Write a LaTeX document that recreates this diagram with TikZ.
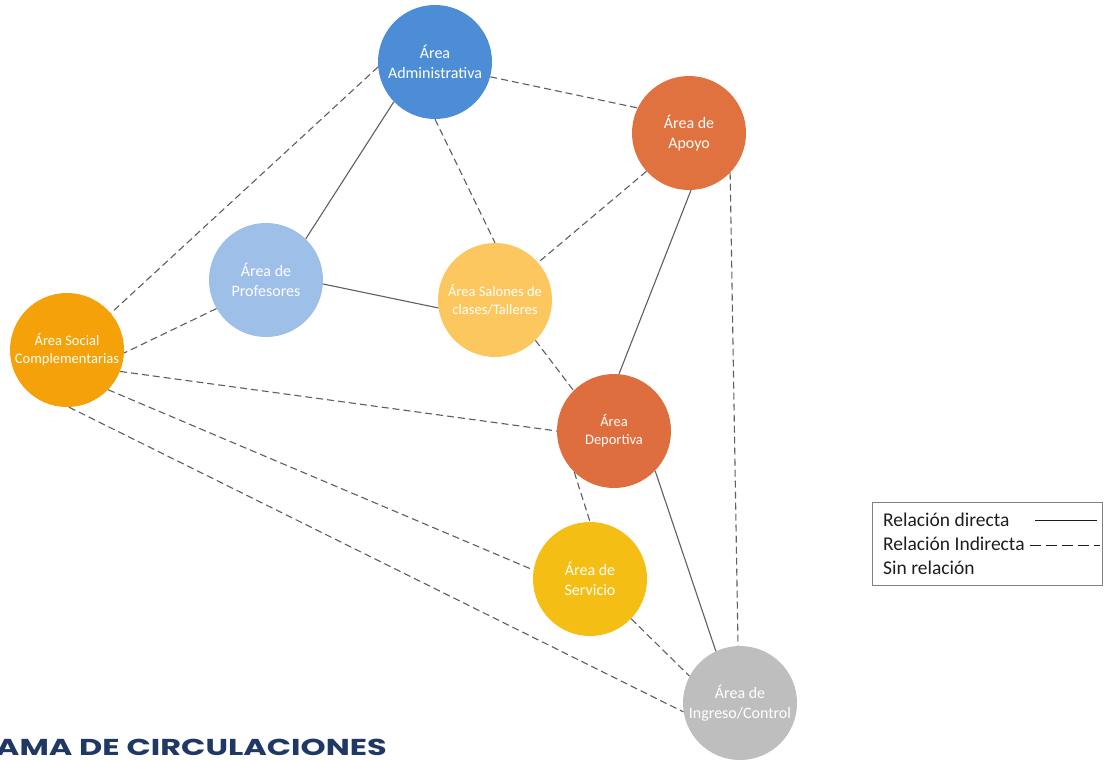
\documentclass[tikz,border=0pt]{standalone}
\usepackage{fontspec}
\setmainfont{Carlito}
\newfontfamily\titlefont{Poppins}
\definecolor{cadmin}{RGB}{76,141,213}
\definecolor{capoyo}{RGB}{224,114,64}
\definecolor{cprof}{RGB}{158,192,232}
\definecolor{csalon}{RGB}{252,199,94}
\definecolor{csocial}{RGB}{244,161,10}
\definecolor{cdep}{RGB}{222,110,62}
\definecolor{cserv}{RGB}{245,190,20}
\definecolor{cing}{RGB}{190,190,190}
\definecolor{cedge}{RGB}{95,95,95}
\definecolor{ctitle}{RGB}{31,56,100}
\definecolor{clegend}{RGB}{30,30,30}
\begin{document}
\begin{tikzpicture}[x=1pt,y=-1pt,
  area/.style={circle, minimum size=114pt, inner sep=0pt, text=white, align=center,
    font=\fontsize{16}{19.5}\selectfont},
  smallarea/.style={area, font=\fontsize{14.5}{18}\selectfont},
  direct/.style={draw=cedge, line width=1.1pt},
  indirect/.style={draw=cedge, line width=1.1pt, dash pattern=on 7pt off 4pt},
  legtext/.style={anchor=base west, inner sep=0pt, text=clegend, font=\fontsize{19.5}{24}\selectfont}]
\useasboundingbox (0,0) rectangle (1110,760);
\fill[white] (0,0) rectangle (1110,760);

% areas
\node[area, fill=cadmin] (admin) at (435,62) {Área\\Administrativa};
\node[area, fill=capoyo] (apoyo) at (689,133) {Área de\\Apoyo};
\node[area, fill=cprof] (prof) at (266,280) {Área de\\Profesores};
\node[smallarea, fill=csalon] (salon) at (495,300) {Área Salones de\\clases/Talleres};
\node[smallarea, fill=csocial] (social) at (67,350) {Área Social\\Complementarias};
\node[smallarea, fill=cdep] (dep) at (614,431) {Área\\Deportiva};
\node[area, fill=cserv] (serv) at (590,579) {Área de\\Servicio};
\node[area, fill=cing] (ing) at (740,703) {Área de\\Ingreso/Control};

% direct relations
\draw[direct] (admin.224) -- (prof.46);
\draw[direct] (prof.-4) -- (salon.188);
\draw[direct] (apoyo.-88) -- (dep.85);
\draw[direct] (dep.-44) -- (ing.115);

% indirect relations
\draw[indirect] (admin.185) -- (social.40);
\draw[indirect] (prof.210) -- (social.-3);
\draw[indirect] (social.-22) -- (dep.180);
\draw[indirect] (social.-44) -- (serv.171);
\draw[indirect] (social.-88) -- (ing.189);
\draw[indirect] (admin.-15) -- (apoyo.154);
\draw[indirect] (admin.-90) -- (salon.90);
\draw[indirect] (apoyo.222) -- (salon.41);
\draw[indirect] (salon.-45) -- (dep.135);
\draw[indirect] (dep.226) -- (serv.90);
\draw[indirect] (serv.-44) -- (ing.152);
\draw[indirect] (apoyo.-44) -- (ing.92);

% legend
\node[draw=gray, line width=0.8pt, minimum width=230pt, minimum height=83pt,
  anchor=north west, inner sep=0pt] (legend) at (872,502) {};
\node[legtext] (l1) at (883,526) {Relación directa};
\node[legtext] (l2) at (883,550) {Relación Indirecta};
\node[legtext] (l3) at (883,574) {Sin relación};
\coordinate (s1a) at (1035,520);
\coordinate (s1b) at (1097,520);
\coordinate (s2a) at (1030,545);
\coordinate (s2b) at (1100,545);
\draw[draw=clegend, line width=0.8pt] (s1a) -- (s1b);
\draw[draw=clegend, line width=0.8pt, dash pattern=on 11pt off 5pt] (s2a) -- (s2b);

% title (cut off at the left edge, as in the reference)
\begin{scope}
\clip (0,0) rectangle (1110,760);
\node[anchor=base east, inner sep=0pt, text=ctitle,
  font=\titlefont\bfseries\fontsize{23}{23}\selectfont] (title) at (387,755)
  {\scalebox{1.39}[1]{DIAGRAMA DE CIRCULACIONES}};
\end{scope}
\end{tikzpicture}
\end{document}
